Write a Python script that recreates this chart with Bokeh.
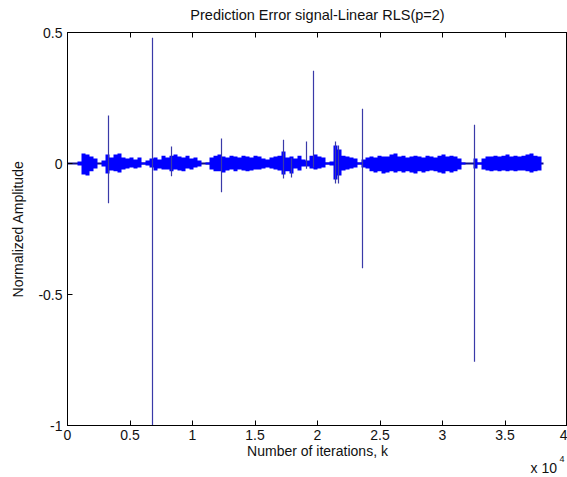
from bokeh.plotting import figure
from bokeh.models import Range1d, FixedTicker, LinearAxis, Label, ColumnDataSource
from bokeh.embed import file_html
from bokeh.resources import INLINE

# ---- data ----
# envelope of the noisy prediction error, sampled every 320 iterations
band_iter = list(range(0, 38081, 320))
band_upper = [0, 0, 0, 0.008, 0.038, 0.034, 0.027, 0.019, 0, 0.011,
              0.034, 0.023, 0.034, 0.038, 0.023, 0.019, 0.023, 0.015, 0.023, 0.004,
              0.011, 0.019, 0.023, 0.015, 0.030, 0.023, 0.030, 0.034, 0.027, 0.023,
              0.030, 0.019, 0.023, 0.011, 0, 0.004, 0.023, 0.030, 0.034, 0.027,
              0.023, 0.030, 0.027, 0.023, 0.030, 0.027, 0.023, 0.030, 0.027, 0.019,
              0.015, 0.023, 0.027, 0.030, 0.046, 0.023, 0.027, 0.019, 0.030, 0.015,
              0.011, 0.030, 0.034, 0.027, 0.023, 0.004, 0.008, 0.069, 0.053, 0.030,
              0.027, 0.023, 0.019, 0.004, 0.015, 0.023, 0.027, 0.023, 0.030, 0.027,
              0.027, 0.034, 0.038, 0.027, 0.030, 0.023, 0.027, 0.030, 0.027, 0.023,
              0.030, 0.027, 0.023, 0.030, 0.034, 0.027, 0.030, 0.027, 0.019, 0.004,
              0, 0, 0.019, 0.004, 0.019, 0.027, 0.027, 0.030, 0.027, 0.030,
              0.034, 0.027, 0.030, 0.027, 0.030, 0.034, 0.038, 0.030, 0.027, 0]
band_lower = [0, 0, 0, -0.008, -0.042, -0.046, -0.030, -0.019, 0, -0.011,
              -0.038, -0.027, -0.030, -0.034, -0.023, -0.019, -0.015, -0.019, -0.015, -0.004,
              -0.008, -0.015, -0.027, -0.019, -0.023, -0.023, -0.030, -0.023, -0.027, -0.030,
              -0.019, -0.023, -0.015, -0.011, 0, -0.004, -0.023, -0.030, -0.030, -0.034,
              -0.027, -0.023, -0.030, -0.023, -0.027, -0.030, -0.027, -0.023, -0.023, -0.019,
              -0.015, -0.019, -0.023, -0.027, -0.042, -0.030, -0.038, -0.019, -0.027, -0.011,
              -0.011, -0.019, -0.023, -0.019, -0.015, -0.004, -0.008, -0.061, -0.046, -0.027,
              -0.023, -0.019, -0.015, -0.004, -0.015, -0.019, -0.030, -0.034, -0.030, -0.038,
              -0.034, -0.030, -0.034, -0.030, -0.034, -0.030, -0.034, -0.038, -0.030, -0.034,
              -0.030, -0.027, -0.030, -0.034, -0.038, -0.030, -0.034, -0.030, -0.023, -0.004,
              0, 0, -0.019, -0.004, -0.023, -0.027, -0.030, -0.027, -0.030, -0.027,
              -0.030, -0.027, -0.030, -0.027, -0.027, -0.030, -0.034, -0.030, -0.027, 0]

# isolated spikes: iteration, max, min
spike_iter = [3280, 6800, 8320, 12320, 17280, 17920, 19120, 19680, 21440, 21680, 23600, 32560]
spike_max = [0.183, 0.48, 0.065, 0.095, 0.091, 0.020, 0.084, 0.354, 0.084, 0.069, 0.209, 0.148]
spike_min = [-0.152, -1.0, -0.049, -0.110, -0.057, -0.053, -0.020, -0.015, -0.076, -0.076, -0.40, -0.757]

x_ticks = [0, 5000, 10000, 15000, 20000, 25000, 30000, 35000, 40000]
x_tick_labels = ["0", "0.5", "1", "1.5", "2", "2.5", "3", "3.5", "4"]
y_ticks = [-1, -0.5, 0, 0.5]
y_tick_labels = ["-1", "-0.5", "0", "0.5"]

TITLE = "Prediction Error signal-Linear RLS(p=2)"
FONT = "Liberation Sans"

p = figure(width=567, height=477, output_backend="svg", toolbar_location=None,
           x_range=Range1d(0, 40000), y_range=Range1d(-1, 0.5),
           min_border_left=67, min_border_right=0, min_border_top=32, min_border_bottom=51,
           background_fill_color="white", border_fill_color="white")
p.outline_line_color = "black"
p.outline_line_width = 1
p.grid.visible = False
p.title = None

src = ColumnDataSource(dict(x=band_iter, up=band_upper, lo=band_lower))
p.segment(x0=[band_iter[0]], y0=[0], x1=[band_iter[-1]], y1=[0], line_color="#10108a", line_width=2)
p.varea_step(x="x", y1="lo", y2="up", source=src, fill_color="#0000ff", step_mode="center")
p.segment(x0=spike_iter, y0=spike_min, x1=spike_iter, y1=spike_max, line_color="#3a3aa8", line_width=1.2)

for ax in (p.xaxis[0], p.yaxis[0]):
    ax.major_tick_in = 5
    ax.major_tick_out = 0
    ax.minor_tick_line_color = None
    ax.axis_line_color = "black"
    ax.major_tick_line_color = "black"
    ax.major_label_text_font = FONT
    ax.major_label_text_font_size = "14px"
    ax.major_label_text_color = "#111111"
    ax.axis_label_text_font = FONT
    ax.axis_label_text_font_size = "14px"
    ax.axis_label_text_font_style = "normal"
    ax.axis_label_text_color = "#111111"

p.xaxis.ticker = FixedTicker(ticks=x_ticks)
p.xaxis.major_label_overrides = dict(zip(x_ticks, x_tick_labels))
p.xaxis.axis_label = "Number of iterations, k"
p.xaxis.major_label_standoff = 4
p.xaxis.axis_label_standoff = 0

p.yaxis.ticker = FixedTicker(ticks=y_ticks)
p.yaxis.major_label_overrides = dict(zip(y_ticks, y_tick_labels))
p.yaxis.axis_label = "Normalized Amplitude"
p.yaxis.major_label_standoff = 5
p.yaxis.axis_label_standoff = 9

top = LinearAxis(ticker=FixedTicker(ticks=x_ticks), major_tick_in=5, major_tick_out=0,
                 minor_tick_line_color=None, major_label_standoff=0, axis_line_color="black",
                 major_label_overrides={t: "" for t in x_ticks}, major_label_text_font_size="1px")
p.add_layout(top, "above")

# title and the "x 10^4" multiplier, placed in canvas coordinates
p.add_layout(Label(x=317, y=14, x_units="canvas", y_units="canvas", text=TITLE,
                   text_font=FONT, text_font_size="14.5px", text_align="center",
                   text_baseline="middle", text_color="#111111"), "above")
p.add_layout(Label(x=559, y=458, x_units="canvas", y_units="canvas", text="4",
                   text_font=FONT, text_font_size="9px", text_baseline="middle",
                   text_color="#111111"), "above")
p.add_layout(Label(x=530, y=467, x_units="canvas", y_units="canvas", text="x 10",
                   text_font=FONT, text_font_size="14px", text_baseline="middle",
                   text_color="#111111"), "below")

open("out.html", "w").write(file_html(p, INLINE))
